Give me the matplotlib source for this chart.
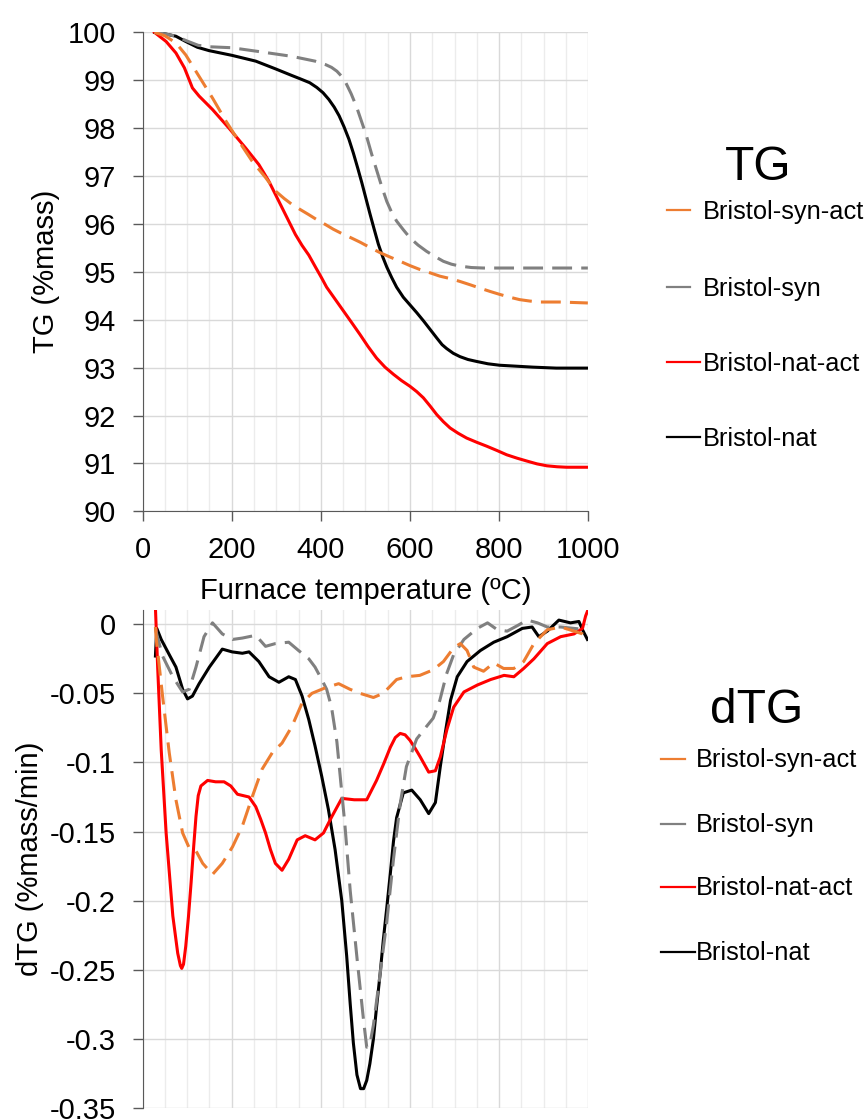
import numpy as np
import matplotlib
matplotlib.use('Agg')
import matplotlib.pyplot as plt
from matplotlib.lines import Line2D

plt.rcParams['font.family'] = ['Liberation Sans', 'DejaVu Sans']
plt.rcParams['axes.unicode_minus'] = False

# ---- TG data ----
tg_nat_T = [27, 50, 75, 97, 123, 149, 201, 254, 298, 335, 354, 375, 391, 405, 418, 430, 441, 452, 463, 473,
            483, 492, 501, 510, 520, 529, 539, 548, 559, 570, 585, 600, 615, 630, 645, 660, 672, 682, 697, 712,
            730, 749, 775, 801, 876, 928, 999]
tg_nat = [100, 99.97, 99.92, 99.81, 99.69, 99.62, 99.52, 99.40, 99.24, 99.10, 99.03, 98.95, 98.85, 98.74,
          98.60, 98.44, 98.26, 98.03, 97.77, 97.48, 97.16, 96.86, 96.54, 96.22, 95.88, 95.58, 95.31, 95.10,
          94.88, 94.68, 94.47, 94.31, 94.15, 93.98, 93.80, 93.62, 93.48, 93.40, 93.30, 93.23, 93.17, 93.13,
          93.08, 93.05, 93.01, 92.99, 92.99]

tg_syn_T = [27, 50, 75, 100, 125, 150, 200, 261, 335, 387, 410, 424, 436, 446, 456, 468, 480, 491, 502, 514,
            526, 537, 548, 559, 570, 585, 600, 618, 637, 656, 675, 693, 712, 738, 764, 839, 920, 999]
tg_syn = [100, 99.97, 99.92, 99.82, 99.73, 99.70, 99.68, 99.60, 99.50, 99.40, 99.33, 99.27, 99.19, 99.09,
          98.95, 98.72, 98.45, 98.15, 97.85, 97.46, 97.10, 96.77, 96.47, 96.24, 96.06, 95.88, 95.71, 95.56,
          95.43, 95.32, 95.22, 95.16, 95.12, 95.09, 95.08, 95.08, 95.08, 95.08]

tg_synact_T = [27, 50, 75, 97, 127, 157, 187, 216, 246, 276, 298, 318, 335, 354, 372, 391, 410, 428, 447, 468,
               488, 510, 533, 555, 578, 600, 622, 645, 667, 690, 712, 735, 757, 780, 801, 824, 846, 869, 891,
               936, 999]
tg_synact = [100, 99.93, 99.78, 99.53, 99.08, 98.63, 98.15, 97.73, 97.31, 96.97, 96.69, 96.53, 96.41, 96.30,
             96.20, 96.09, 95.99, 95.89, 95.80, 95.71, 95.62, 95.51, 95.40, 95.31, 95.22, 95.13, 95.05, 94.98,
             94.91, 94.86, 94.80, 94.73, 94.66, 94.59, 94.53, 94.47, 94.42, 94.39, 94.37, 94.37, 94.35]

tg_natact_T = [27, 53, 75, 94, 112, 127, 157, 194, 231, 261, 283, 298, 313, 328, 343, 358, 373, 388, 402, 413,
               432, 451, 470, 488, 506, 525, 544, 563, 581, 600, 615, 630, 645, 660, 675, 690, 708, 727, 750,
               772, 795, 817, 840, 862, 885, 907, 930, 951, 999]
tg_natact = [100, 99.81, 99.57, 99.26, 98.84, 98.67, 98.39, 98.00, 97.59, 97.24, 96.90, 96.62, 96.34, 96.06,
             95.78, 95.55, 95.35, 95.10, 94.87, 94.68, 94.43, 94.18, 93.93, 93.69, 93.44, 93.20, 93.01, 92.86,
             92.73, 92.61, 92.50, 92.37, 92.20, 92.02, 91.87, 91.74, 91.63, 91.53, 91.44, 91.36, 91.27, 91.18,
             91.11, 91.05, 90.99, 90.95, 90.93, 90.92, 90.92]

# ---- dTG data ----
dtg_nat_T = [29, 32, 42, 60, 75, 90, 101, 112, 127, 150, 179, 201, 224, 239, 261, 284, 306, 328, 343, 358, 373,
             387, 402, 417, 432, 447, 458, 466, 473, 481, 489, 496, 503, 510, 518, 525, 533, 540, 548, 556, 563,
             570, 585, 604, 623, 642, 657, 668, 679, 691, 706, 728, 758, 788, 818, 852, 874, 889, 908, 934, 960,
             979, 987, 998]
dtg_nat = [-0.023, -0.003, -0.011, -0.022, -0.031, -0.047, -0.054, -0.052, -0.043, -0.031, -0.018, -0.020,
           -0.021, -0.020, -0.027, -0.038, -0.042, -0.038, -0.040, -0.052, -0.069, -0.088, -0.110, -0.134,
           -0.163, -0.200, -0.240, -0.275, -0.303, -0.326, -0.336, -0.336, -0.330, -0.318, -0.300, -0.277,
           -0.253, -0.229, -0.205, -0.180, -0.157, -0.140, -0.122, -0.120, -0.127, -0.137, -0.129, -0.103,
           -0.079, -0.055, -0.038, -0.027, -0.019, -0.013, -0.009, -0.003, -0.002, -0.009, -0.005, 0.003,
           0.001, 0.002, -0.004, -0.011]

dtg_syn_T = [29, 31, 45, 68, 90, 105, 120, 138, 157, 179, 202, 224, 254, 276, 298, 328, 350, 373, 387, 402, 413,
             424, 436, 445, 454, 466, 481, 496, 503, 510, 518, 533, 548, 563, 578, 592, 615, 637, 652, 667, 682,
             698, 721, 751, 774, 796, 818, 841, 863, 886, 908, 938, 968, 998]
dtg_syn = [-0.003, -0.006, -0.023, -0.038, -0.049, -0.047, -0.031, -0.009, 0.001, -0.007, -0.011, -0.010,
           -0.008, -0.016, -0.014, -0.013, -0.019, -0.025, -0.031, -0.040, -0.047, -0.060, -0.085, -0.115,
           -0.145, -0.193, -0.241, -0.287, -0.306, -0.304, -0.290, -0.253, -0.215, -0.170, -0.130, -0.103,
           -0.083, -0.074, -0.068, -0.055, -0.036, -0.022, -0.011, -0.003, 0.001, -0.004, -0.005, -0.001,
           0.003, 0.001, -0.002, -0.002, -0.003, -0.004]

dtg_synact_T = [29, 31, 45, 60, 75, 90, 105, 120, 135, 157, 179, 202, 224, 246, 268, 291, 313, 335, 358, 380,
                410, 440, 465, 488, 518, 540, 570, 592, 622, 652, 675, 698, 713, 728, 743, 765, 788, 810, 833,
                855, 878, 908, 938, 968, 987, 998]
dtg_synact = [-0.002, -0.011, -0.052, -0.093, -0.127, -0.151, -0.162, -0.164, -0.173, -0.181, -0.173, -0.161,
              -0.146, -0.125, -0.105, -0.093, -0.086, -0.074, -0.057, -0.050, -0.046, -0.043, -0.047, -0.050,
              -0.053, -0.050, -0.040, -0.038, -0.037, -0.033, -0.027, -0.017, -0.014, -0.019, -0.031, -0.034,
              -0.028, -0.032, -0.032, -0.027, -0.014, -0.004, -0.002, -0.005, -0.007, -0.011]

dtg_natact_T = [29, 34, 42, 53, 68, 79, 85, 88, 92, 97, 103, 109, 115, 120, 125, 131, 146, 164, 183, 198, 213,
                239, 254, 265, 276, 287, 298, 313, 328, 347, 365, 387, 406, 425, 447, 475, 503, 525, 541, 556,
                567, 578, 589, 600, 612, 623, 642, 657, 668, 683, 698, 721, 751, 781, 811, 833, 855, 878, 908,
                938, 968, 987, 994, 1000]
dtg_natact = [0.012, -0.031, -0.091, -0.151, -0.211, -0.238, -0.247, -0.249, -0.246, -0.233, -0.212, -0.187,
              -0.160, -0.139, -0.124, -0.117, -0.113, -0.114, -0.114, -0.117, -0.123, -0.125, -0.132, -0.141,
              -0.151, -0.163, -0.173, -0.178, -0.170, -0.156, -0.153, -0.156, -0.151, -0.139, -0.126, -0.127,
              -0.127, -0.113, -0.101, -0.089, -0.082, -0.079, -0.080, -0.084, -0.090, -0.096, -0.107, -0.106,
              -0.096, -0.076, -0.060, -0.049, -0.044, -0.040, -0.037, -0.038, -0.032, -0.025, -0.014, -0.009,
              -0.007, -0.003, 0.006, 0.011]

labels = ['Bristol-syn-act', 'Bristol-syn', 'Bristol-nat-act', 'Bristol-nat']
colors = ['#ED7D31', '#808080', '#FF0000', '#000000']
dashed = [True, True, False, False]

dy_ticks = [0, -0.05, -0.1, -0.15, -0.2, -0.25, -0.3, -0.35]
dy_labels = ['0', '-0.05', '-0.1', '-0.15', '-0.2', '-0.25', '-0.3', '-0.35']

W, H = 868, 1120
fig = plt.figure(figsize=(W / 100, H / 100), dpi=100)

x0, x1 = 142.5, 588.3
ax1 = fig.add_axes([x0 / W, 1 - 511.3 / H, (x1 - x0) / W, (511.3 - 32.4) / H])
ax2 = fig.add_axes([x0 / W, 1 - 1108 / H, (x1 - x0) / W, (1108 - 610) / H])

dash = (0, (6.5, 3))
tg_sets = [(tg_synact_T, tg_synact), (tg_syn_T, tg_syn), (tg_natact_T, tg_natact), (tg_nat_T, tg_nat)]
dtg_sets = [(dtg_synact_T, dtg_synact), (dtg_syn_T, dtg_syn), (dtg_natact_T, dtg_natact), (dtg_nat_T, dtg_nat)]
order = [3, 2, 1, 0]
for i in order:
    ls = dash if dashed[i] else '-'
    ax1.plot(tg_sets[i][0], tg_sets[i][1], color=colors[i], lw=2.2, linestyle=ls, zorder=3,
             solid_joinstyle='round')
    ax2.plot(dtg_sets[i][0], dtg_sets[i][1], color=colors[i], lw=2.2, linestyle=ls, zorder=3,
             solid_joinstyle='round')

grid_major = '#d9d9d9'
grid_minor = '#ececec'
spine_col = '#595959'

for ax in (ax1, ax2):
    ax.set_xlim(0, 1000)
    ax.set_xticks(np.arange(0, 1001, 200))
    ax.set_xticks(np.arange(0, 1001, 50), minor=True)
    ax.grid(which='major', color=grid_major, lw=1.0, zorder=0)
    ax.grid(which='minor', axis='x', color=grid_minor, lw=1.0, zorder=0)
    ax.set_axisbelow(True)
    for s in ('top', 'right'):
        ax.spines[s].set_visible(False)
    ax.spines['left'].set_color(spine_col)
    ax.spines['bottom'].set_color(spine_col)
    ax.tick_params(axis='y', which='major', direction='out', length=7, width=1, color=spine_col,
                   labelsize=21, pad=12)
    ax.tick_params(which='minor', length=0)

ax1.set_ylim(90, 100)
ax1.set_yticks(np.arange(90, 101, 1))
ax1.tick_params(axis='x', which='major', direction='out', length=7, width=1, color=spine_col,
                labelsize=21, pad=11)
ax1.set_xlabel('Furnace temperature (ºC)', fontsize=21)
ax1.xaxis.set_label_coords(0.5, -0.137)
ax1.set_ylabel('TG (%mass)', fontsize=21)
ax1.yaxis.set_label_coords(-0.185, 0.5)

ax2.set_ylim(-0.35, 0.0103)
ax2.set_yticks(dy_ticks)
ax2.set_yticklabels(dy_labels)
ax2.spines['bottom'].set_visible(False)
ax2.tick_params(axis='x', which='both', length=0, labelbottom=False)
ax2.set_ylabel('dTG (%mass/min)', fontsize=21)
ax2.yaxis.set_label_coords(-0.221, 0.5)


def add_legend(title, title_x, title_base, rows, hx0, hx_dash, hx_solid, tx):
    fig.text(title_x / W, 1 - title_base / H, title, fontsize=34.5, ha='center', va='baseline')
    for i, (hy, base) in enumerate(rows):
        hx1 = hx_dash if dashed[i] else hx_solid
        fig.add_artist(Line2D([hx0 / W, hx1 / W], [1 - hy / H, 1 - hy / H], transform=fig.transFigure,
                              color=colors[i], lw=1.6))
        fig.text(tx / W, 1 - base / H, labels[i], fontsize=18.3, ha='left', va='baseline')


add_legend('TG', 758, 180, [(210, 219.3), (286.7, 295.7), (362.3, 370.7), (437.3, 445.7)],
           666.7, 690, 700, 703)
add_legend('dTG', 757, 723.3, [(759, 767.3), (824, 831.7), (887.3, 895), (951.7, 960)],
           660.7, 685, 695, 696)

fig.savefig('out.png', dpi=100)
